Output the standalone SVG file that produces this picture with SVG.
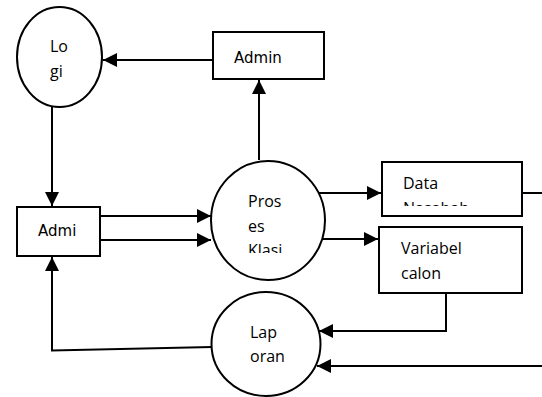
<svg xmlns="http://www.w3.org/2000/svg" width="542" height="397" viewBox="0 0 542 397">
<style>
.shape{fill:#fff;stroke:#000;stroke-width:2}
.line{fill:none;stroke:#000;stroke-width:2}
.t{font-family:"Open Sans",sans-serif;font-size:16px;fill:#000}
.d{font-family:"DejaVu Sans",sans-serif;font-size:15px;fill:#000}
</style>
<defs>
<marker id="ah" markerUnits="userSpaceOnUse" markerWidth="15" markerHeight="15" refX="14" refY="7" orient="auto">
<path d="M0,0 L14,7 L0,14 z" fill="#000"/>
</marker>
<clipPath id="clipKlasi"><rect x="230" y="170" width="80" height="83"/></clipPath>
<clipPath id="clipNasabah"><rect x="390" y="165" width="120" height="41"/></clipPath>
</defs>
<g id="connectors">
<line class="line" x1="213" y1="60" x2="103" y2="60" marker-end="url(#ah)"/>
<line class="line" x1="259" y1="160" x2="259" y2="80" marker-end="url(#ah)"/>
<line class="line" x1="52" y1="107" x2="52" y2="206" marker-end="url(#ah)"/>
<line class="line" x1="100" y1="216" x2="211" y2="216" marker-end="url(#ah)"/>
<line class="line" x1="100" y1="240" x2="211" y2="240" marker-end="url(#ah)"/>
<polyline class="line" points="212,347 52,350.5 52,257" marker-end="url(#ah)"/>
<line class="line" x1="318" y1="193" x2="381" y2="193" marker-end="url(#ah)"/>
<line class="line" x1="322" y1="239" x2="378" y2="239" marker-end="url(#ah)"/>
<line class="line" x1="522" y1="193" x2="542" y2="193"/>
<polyline class="line" points="446,293 446,331 319,331" marker-end="url(#ah)"/>
<line class="line" x1="542" y1="366" x2="317" y2="366" marker-end="url(#ah)"/>
</g>
<g id="logi">
<ellipse class="shape" cx="59.5" cy="57" rx="42.5" ry="50"/>
<text class="t" x="50" y="52">Lo</text>
<text class="t" x="50" y="77">gi</text>
</g>
<g id="admin">
<rect class="shape" x="213" y="32" width="111" height="47"/>
<text class="d" x="234" y="63">Admin</text>
</g>
<g id="admi">
<rect class="shape" x="17" y="207" width="83" height="49"/>
<text class="d" x="38" y="236">Admi</text>
</g>
<g id="proses">
<ellipse class="shape" cx="268" cy="220.5" rx="57" ry="59.5"/>
<g clip-path="url(#clipKlasi)">
<text class="t" x="248" y="207">Pros</text>
<text class="t" x="248" y="232">es</text>
<text class="t" x="248" y="256">Klasi</text>
</g>
</g>
<g id="datanasabah">
<rect class="shape" x="382" y="162" width="140" height="54"/>
<g clip-path="url(#clipNasabah)">
<text class="t" x="403" y="189">Data</text>
<text class="t" x="403" y="214">Nasabah</text>
</g>
</g>
<g id="variabel">
<rect class="shape" x="379" y="227" width="143" height="66"/>
<text class="t" x="401" y="254">Variabel</text>
<text class="t" x="401" y="279">calon</text>
</g>
<g id="laporan">
<ellipse class="shape" cx="266" cy="344" rx="54.5" ry="52"/>
<text class="t" x="250" y="338">Lap</text>
<text class="t" x="250" y="362">oran</text>
</g>
</svg>
